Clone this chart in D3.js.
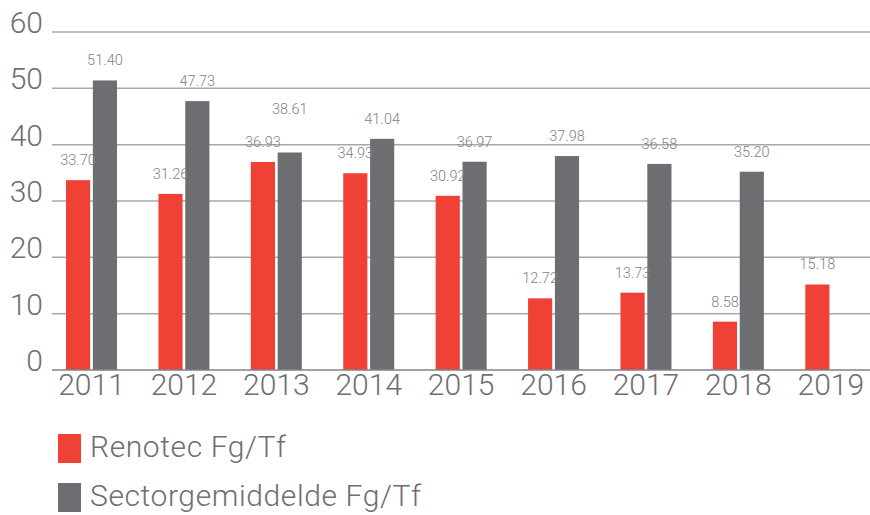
<!DOCTYPE html>
<html>
<head>
<meta charset="utf-8">
<script src="https://cdn.jsdelivr.net/npm/d3@7"></script>
<style>
  html, body { margin: 0; padding: 0; background: #fff; }
  svg { display: block; font-family: "Roboto", "DejaVu Sans", sans-serif; }
</style>
</head>
<body>
<div id="grafico"></div>
<script>
const anios = ["2011", "2012", "2013", "2014", "2015", "2016", "2017", "2018", "2019"];
const renotec = [33.70, 31.26, 36.93, 34.93, 30.92, 12.72, 13.73, 8.58, 15.18];
const sector = [51.40, 47.73, 38.61, 41.04, 36.97, 37.98, 36.58, 35.20, null];
const series = ["Renotec Fg/Tf", "Sectorgemiddelde Fg/Tf"];
const yTicks = [0, 10, 20, 30, 40, 50, 60];

const colores = d3.scaleOrdinal().domain(series).range(["#ef4136", "#6d6e71"]);

const width = 870, height = 515;

const svg = d3.select("#grafico")
    .append("svg")
    .attr("width", width)
    .attr("height", height);

const y = d3.scaleLinear().domain([0, 60]).range([370, 32]);

const x = d3.scaleBand()
    .domain(anios)
    .range([45.3, 877])
    .padding(0);

const x1 = d3.scaleBand()
    .domain(series)
    .range([x.bandwidth() / 2 - 25.5, x.bandwidth() / 2 + 25.5])
    .paddingInner(0.1);

// lineas de grilla
svg.append("g")
    .selectAll("line")
    .data(yTicks.filter(d => d > 0))
    .enter()
    .append("line")
    .attr("x1", 52)
    .attr("x2", width)
    .attr("y1", d => y(d))
    .attr("y2", d => y(d))
    .attr("stroke", "#a7a8aa")
    .attr("stroke-width", 1.5);

// etiquetas eje y
svg.append("g")
    .selectAll("text")
    .data(yTicks)
    .enter()
    .append("text")
    .attr("x", 43)
    .attr("y", d => y(d) + 1)
    .attr("text-anchor", "end")
    .attr("font-size", "30px")
    .attr("font-weight", 300)
    .attr("fill", "#6d6e71")
    .text(d => d);

const datos = anios.map((a, i) => ({
    anio: a,
    valores: [
        { serie: series[0], valor: renotec[i] },
        { serie: series[1], valor: sector[i] }
    ].filter(v => v.valor !== null)
}));

// posicion de la etiqueta: 15px sobre la barra, y si choca con la roja se sube
datos.forEach(g => {
    g.valores.forEach(v => { v.ly = y(v.valor) - 15; });
    if (g.valores.length === 2) {
        const [r, s] = g.valores;
        if (Math.abs(r.ly - s.ly) < 14) s.ly = Math.min(r.ly, s.ly) - 23;
    }
});

const grupos = svg.append("g")
    .selectAll("g")
    .data(datos)
    .enter()
    .append("g")
    .attr("transform", d => `translate(${x(d.anio)},0)`);

grupos.selectAll("rect")
    .data(d => d.valores)
    .enter()
    .append("rect")
    .attr("x", d => x1(d.serie))
    .attr("y", d => y(d.valor))
    .attr("width", x1.bandwidth())
    .attr("height", d => y(0) - y(d.valor))
    .attr("fill", d => colores(d.serie));

grupos.selectAll("text.valor")
    .data(d => d.valores)
    .enter()
    .append("text")
    .attr("class", "valor")
    .attr("x", d => x1(d.serie) + x1.bandwidth() / 2)
    .attr("y", d => d.ly)
    .attr("text-anchor", "middle")
    .attr("font-size", "14.5px")
    .attr("font-weight", 300)
    .attr("fill", "#808285")
    .text(d => d.valor.toFixed(2));

// eje x
svg.append("line")
    .attr("x1", 52)
    .attr("x2", width)
    .attr("y1", y(0))
    .attr("y2", y(0))
    .attr("stroke", "#808285")
    .attr("stroke-width", 1.5);

svg.append("g")
    .selectAll("text")
    .data(anios)
    .enter()
    .append("text")
    .attr("x", d => x(d) + x.bandwidth() / 2)
    .attr("y", 395)
    .attr("text-anchor", "middle")
    .attr("font-size", "30px")
    .attr("font-weight", 300)
    .attr("fill", "#6d6e71")
    .text(d => d);

// leyenda
const leyenda = svg.append("g")
    .selectAll("g")
    .data(series)
    .enter()
    .append("g")
    .attr("transform", (d, i) => `translate(58, ${434 + i * 49})`);

leyenda.append("rect")
    .attr("width", 23)
    .attr("height", 29)
    .attr("fill", d => colores(d));

leyenda.append("text")
    .attr("x", 32)
    .attr("y", 23)
    .attr("font-size", "30px")
    .attr("font-weight", 300)
    .attr("letter-spacing", "0.6px")
    .attr("fill", "#6d6e71")
    .text(d => d);
</script>
</body>
</html>
